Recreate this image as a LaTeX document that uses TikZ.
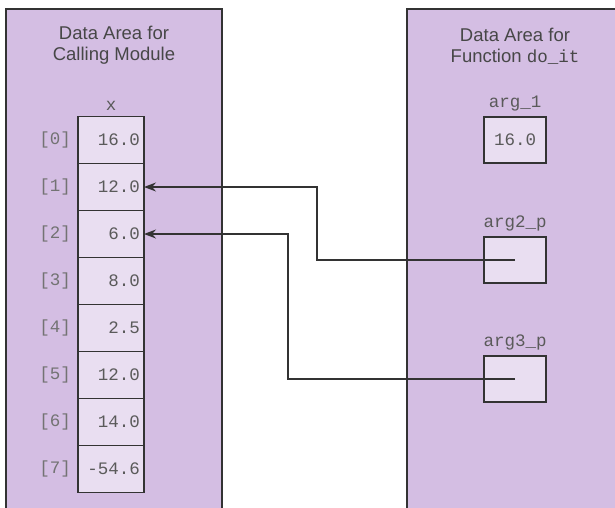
\documentclass[tikz,border=0pt]{standalone}
\usepackage{fontspec}
\setmainfont{Liberation Sans}
\setmonofont{Liberation Mono}
\usepackage{tikz}
\usetikzlibrary{arrows.meta}
\usetikzlibrary{positioning}
\definecolor{areafill}{HTML}{D4BEE3}
\definecolor{cellfill}{HTML}{E9DEF1}
\definecolor{edgecol}{HTML}{333333}
\definecolor{codecol}{HTML}{5A5A5A}
\tikzset{
    every node/.style={font=\fontsize{18.5}{20.5}\selectfont},
    title node/.style={align=center,text=edgecol!90},
    code node/.style={font=\ttfamily\fontsize{17.5}{20}\selectfont,text=codecol},
    cell node/.style={code node,draw=edgecol,fill=cellfill,line width=1.4pt,outer sep=0pt,
        minimum height=47pt,text width=58pt,inner xsep=4pt,align=right},
    arg node/.style={code node,draw=edgecol,fill=cellfill,line width=1.4pt,outer sep=0pt,
        minimum width=62pt,minimum height=46pt,inner sep=0pt},
    index node/.style={code node,text=codecol!85,inner sep=2pt}
}

\begin{document}
\begin{tikzpicture}[x=1pt,y=-1pt,ptr/.style={-{Stealth[length=12pt,width=9pt]},line width=1.5pt,draw=edgecol},node distance=2pt]

    \useasboundingbox (0,0) rectangle (615,508);

    % the two data areas
    \fill[areafill] (6,9) rectangle (222,508);
    \draw[edgecol,line width=1.5pt] (6,508) -- (6,9) -- (222,9) -- (222,508);
    \fill[areafill] (407,9) rectangle (615,508);
    \draw[edgecol,line width=1.5pt] (407,508) -- (407,9) -- (615,9);

    \node[title node] (lefttitle) at (114,45) {Data Area for\\Calling Module};
    \node[title node] (righttitle) at (515,46) {Data Area for\\Function \texttt{\fontsize{17.5}{20}\selectfont do\_it}};

    % array x
    \node[cell node] (c0) at (111,140) {16.0};
    \node[cell node] (c1) [below=0pt of c0] {12.0};
    \node[cell node] (c2) [below=0pt of c1] {6.0};
    \node[cell node] (c3) [below=0pt of c2] {8.0};
    \node[cell node] (c4) [below=0pt of c3] {2.5};
    \node[cell node] (c5) [below=0pt of c4] {12.0};
    \node[cell node] (c6) [below=0pt of c5] {14.0};
    \node[cell node] (c7) [below=0pt of c6] {-54.6};

    \node[code node] (xname) [above=2pt of c0] {x};

    \node[index node] (i0) [left=5pt of c0] {[0]};
    \node[index node] (i1) [left=5pt of c1] {[1]};
    \node[index node] (i2) [left=5pt of c2] {[2]};
    \node[index node] (i3) [left=5pt of c3] {[3]};
    \node[index node] (i4) [left=5pt of c4] {[4]};
    \node[index node] (i5) [left=5pt of c5] {[5]};
    \node[index node] (i6) [left=5pt of c6] {[6]};
    \node[index node] (i7) [left=5pt of c7] {[7]};

    % parameters
    \node[arg node] (arg1) at (515,140) {16.0};
    \node[arg node] (arg2) at (515,260) {};
    \node[arg node] (arg3) at (515,379) {};

    \node[code node] (arg1name) [above=2pt of arg1] {arg\_1};
    \node[code node] (arg2name) [above=2pt of arg2] {arg2\_p};
    \node[code node] (arg3name) [above=2pt of arg3] {arg3\_p};

    \coordinate (k2) at (317,0);
    \coordinate (k3) at (288,0);

    \draw[ptr] (arg2.center) -- (arg2.center -| k2) |- (c1.east);
    \draw[ptr] (arg3.center) -- (arg3.center -| k3) |- (c2.east);

\end{tikzpicture}
\end{document}
